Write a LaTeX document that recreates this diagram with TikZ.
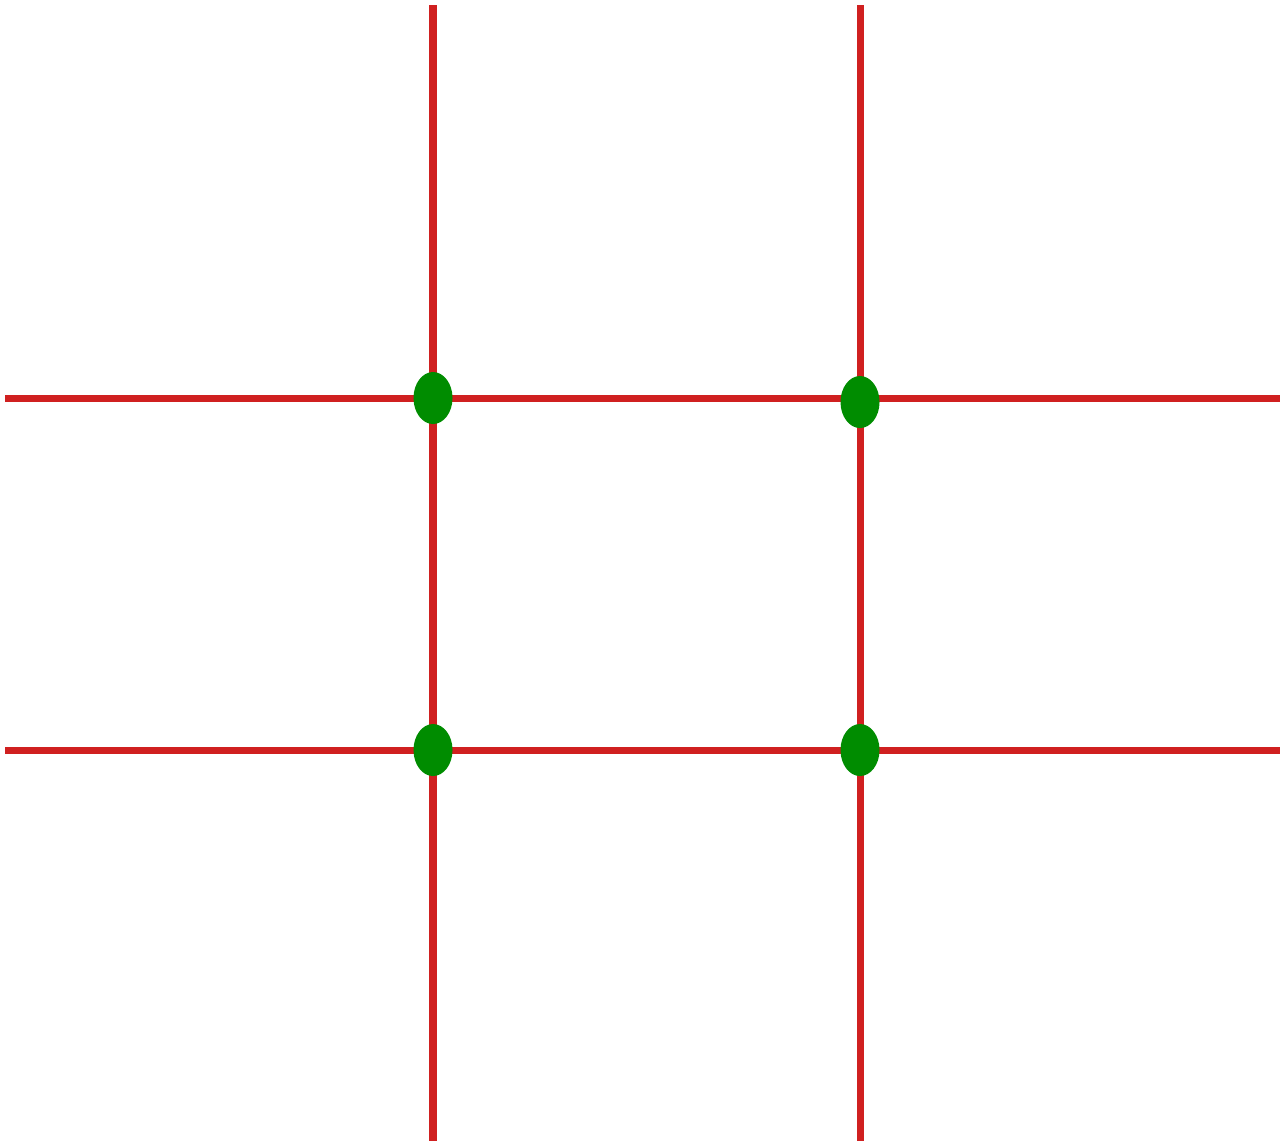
\documentclass[tikz,border=0pt]{standalone}
\usepackage{tikz}
\usetikzlibrary{shapes.geometric}
\definecolor{gridR}{RGB}{208,32,32}
\definecolor{dotG}{RGB}{0,140,0}
\tikzset{
  third/.style   ={draw=gridR, line width=2pt},
  crossdot/.style={ellipse, fill=dotG, draw=none, inner sep=0pt,
                   minimum width=0.39cm, minimum height=0.52cm},
}

\begin{document}
\begin{tikzpicture}[x=0.01cm, y=-0.01cm]

\useasboundingbox (0,0) rectangle (1280,1141);

% line ends
\coordinate (T1) at (433, 5);
\coordinate (B1) at (433, 1141);
\coordinate (T2) at (860, 5);
\coordinate (B2) at (860, 1141);
\coordinate (L1) at (5, 398);
\coordinate (R1) at (1280, 398);
\coordinate (L2) at (5, 750);
\coordinate (R2) at (1280, 750);

\draw[third] (T1) -- (B1);
\draw[third] (T2) -- (B2);
\draw[third] (L1) -- (R1);
\draw[third] (L2) -- (R2);

% power points
\node[crossdot] (p11) at (433, 398) {};
\node[crossdot] (p12) at (860, 402) {};
\node[crossdot] (p21) at (433, 750) {};
\node[crossdot] (p22) at (860, 750) {};

\end{tikzpicture}
\end{document}
